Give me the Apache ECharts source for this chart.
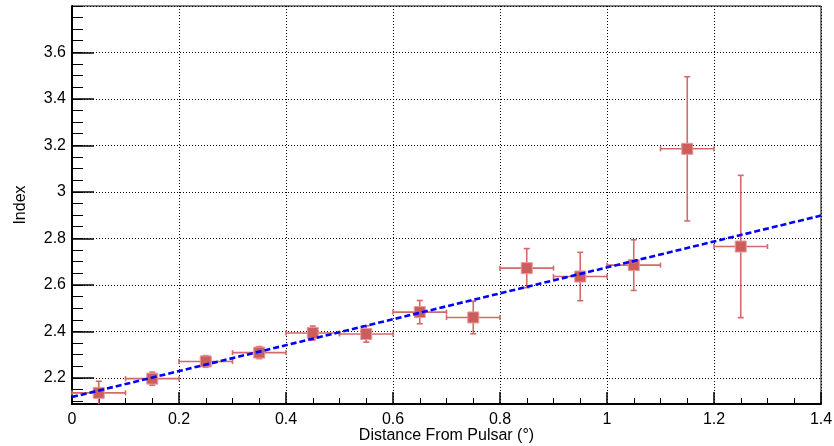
<!DOCTYPE html>
<html>
<head>
<meta charset="utf-8">
<script src="https://cdn.jsdelivr.net/npm/echarts@6/dist/echarts.min.js"></script>
<style>
html,body{margin:0;padding:0;background:#fff;}
#chart{width:834px;height:446px;}
</style>
</head>
<body>
<div id="chart"></div>
<script>
// ---- data ----
const xVals = [0.05, 0.15, 0.25, 0.35, 0.45, 0.55, 0.65, 0.75, 0.85, 0.95, 1.05, 1.15, 1.25];
const xErrs = [0.05, 0.05, 0.05, 0.05, 0.05, 0.05, 0.05, 0.05, 0.05, 0.05, 0.05, 0.05, 0.05];
const yVals = [2.136, 2.197, 2.271, 2.309, 2.393, 2.389, 2.483, 2.460, 2.672, 2.636, 2.685, 3.185, 2.765];
const yErrs = [0.050, 0.028, 0.025, 0.026, 0.030, 0.035, 0.050, 0.070, 0.084, 0.104, 0.109, 0.310, 0.306];
const fitX = [0, 1.4];
const fitY = [2.118, 2.898];
const xMin = 0, xMax = 1.4, xStep = 0.2;
const yMin = 2.088, yMax = 3.799;
const xTitle = 'Distance From Pulsar (°)';
const yTitle = 'Index';

const font = 'Liberation Sans, Arial, Helvetica, sans-serif';
const points = xVals.map((x, i) => [x, yVals[i], xErrs[i], yErrs[i]]);

const chart = echarts.init(document.getElementById('chart'), null, {renderer: 'canvas'});
const errColor = '#d26a6a';

chart.setOption({
  animation: false,
  backgroundColor: '#fff',
  grid: {left: 72, right: 13, top: 6, bottom: 42, show: true, borderColor: '#000', borderWidth: 1,
         backgroundColor: 'transparent', containLabel: false, outerBoundsMode: 'none'},
  xAxis: {
    type: 'value', min: xMin, max: xMax, interval: xStep,
    name: xTitle, nameLocation: 'middle', nameGap: 24, nameMoveOverlap: false,
    nameTextStyle: {fontFamily: font, fontSize: 16, color: '#000'},
    axisLine: {lineStyle: {color: '#000', width: 2}},
    axisTick: {inside: true, length: 12, lineStyle: {color: '#000', width: 1.5}},
    minorTick: {show: true, splitNumber: 4, length: 6, lineStyle: {color: '#000', width: 1}},
    axisLabel: {fontFamily: font, fontSize: 16, color: '#000', margin: 8},
    splitLine: {show: true, lineStyle: {color: '#000', width: 1, type: [1, 2]}}
  },
  yAxis: [{
    type: 'value', min: yMin, max: yMax, splitNumber: 8,
    name: yTitle, nameLocation: 'middle', nameGap: 43, nameMoveOverlap: false,
    nameTextStyle: {fontFamily: font, fontSize: 16, color: '#000'},
    axisLine: {lineStyle: {color: '#000', width: 2}},
    axisTick: {inside: true, length: 22, lineStyle: {color: '#000', width: 1.5}},
    axisLabel: {fontFamily: font, fontSize: 16, color: '#000', margin: 6, showMinLabel: false, showMaxLabel: false},
    splitLine: {show: true, lineStyle: {color: '#000', width: 1, type: [1, 2]}}
  }, {
    type: 'value', min: yMin, max: yMax, splitNumber: 34, position: 'left',
    axisLine: {show: false},
    axisTick: {inside: true, length: 11, lineStyle: {color: '#000', width: 1}},
    axisLabel: {show: false},
    splitLine: {show: false}
  }],
  series: [{
    type: 'custom',
    z: 3,
    data: points,
    renderItem: function (params, api) {
      const x = api.value(0), y = api.value(1), xe = api.value(2), ye = api.value(3);
      const l = api.coord([x - xe, y]);
      const r = api.coord([x + xe, y]);
      const lo = Math.max(y - ye, yMin);
      const t = api.coord([x, y + ye]);
      const b = api.coord([x, lo]);
      const style = {stroke: errColor, lineWidth: 1.6};
      const ch = 2.5, cw = 3;
      const kids = [
        {type: 'line', shape: {x1: l[0], y1: l[1], x2: r[0], y2: r[1]}, style},
        {type: 'line', shape: {x1: l[0], y1: l[1] - ch, x2: l[0], y2: l[1] + ch}, style},
        {type: 'line', shape: {x1: r[0], y1: r[1] - ch, x2: r[0], y2: r[1] + ch}, style},
        {type: 'line', shape: {x1: t[0], y1: t[1], x2: b[0], y2: b[1]}, style},
        {type: 'line', shape: {x1: t[0] - cw, y1: t[1], x2: t[0] + cw, y2: t[1]}, style}
      ];
      if (y - ye > yMin) {
        kids.push({type: 'line', shape: {x1: b[0] - cw, y1: b[1], x2: b[0] + cw, y2: b[1]}, style});
      }
      return {type: 'group', children: kids};
    }
  }, {
    type: 'scatter',
    z: 4,
    symbol: 'rect',
    symbolSize: 11,
    data: points.map(p => [p[0], p[1]]),
    itemStyle: {color: '#cd5c5c', borderColor: '#e39a9a', borderWidth: 1, opacity: 1}
  }, {
    type: 'line',
    z: 5,
    data: fitX.map((x, i) => [x, fitY[i]]),
    symbol: 'none',
    lineStyle: {color: '#0000ff', width: 2.6, type: [6, 3]}
  }]
});
</script>
</body>
</html>
